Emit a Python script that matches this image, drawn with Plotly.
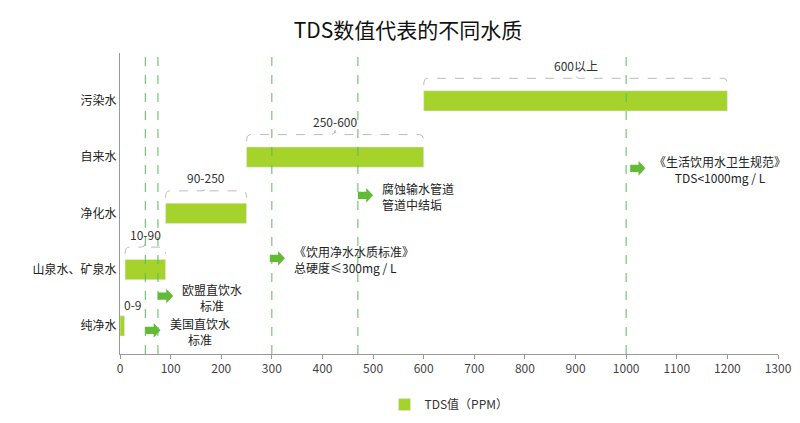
import plotly.graph_objects as go

categories = ["纯净水", "山泉水、矿泉水", "净化水", "自来水", "污染水"]
starts = [0, 10, 90, 250, 600]
ends = [9, 90, 250, 600, 1200]
range_labels = ["0-9", "10-90", "90-250", "250-600", "600以上"]
ref_lines = [50, 75, 300, 470, 1000]
note_x = [50, 75, 296, 470, 1008]
note_y = [-0.08, 0.53, 1.2, 2.32, 2.8]
note_text = ["美国直饮水<br>标准", "欧盟直饮水<br>标准", "《饮用净水水质标准》<br>总硬度≤300mg / L",
             "腐蚀输水管道<br>管道中结垢", "《生活饮用水卫生规范》<br>TDS<1000mg / L"]
note_align = ["center", "center", "left", "left", "center"]
green = "#a6d22c"
arrow_green = "#62bb35"

fig = go.Figure()
fig.add_trace(go.Bar(orientation="h", y=list(range(5)), base=starts,
                     x=[e - s for s, e in zip(starts, ends)], width=0.36,
                     marker_color=green, name="TDS值（PPM）", showlegend=True))

shapes = []
for xv in ref_lines:
    shapes.append(dict(type="line", x0=xv, x1=xv, y0=-0.5, y1=4.85, xref="x", yref="y",
                       line=dict(color="#5cb85c", width=1, dash="dash")))
annotations = []
for i, (s, e, lab) in enumerate(zip(starts, ends, range_labels)):
    yb = i + 0.28
    yl = i + 0.4
    mid = (s + e) / 2
    if e - s > 30:
        path = f"M {s},{yb} Q {s},{yl} {s+8},{yl} L {mid-8},{yl} Q {mid},{yl} {mid},{yl+0.08} Q {mid},{yl} {mid+8},{yl} L {e-8},{yl} Q {e},{yl} {e},{yb}"
        shapes.append(dict(type="path", path=path, xref="x", yref="y",
                           line=dict(color="#bbbbbb", width=1, dash="dash")))
        annotations.append(dict(x=mid, y=i + 0.63, text=lab, showarrow=False,
                                font=dict(size=12, color="#333"), xref="x", yref="y"))
    else:
        annotations.append(dict(x=25, y=i + 0.38, text=lab, showarrow=False,
                                font=dict(size=12, color="#333"), xref="x", yref="y"))

for xv, yv, t, al in zip(note_x, note_y, note_text, note_align):
    w, h = 30, 0.13
    p = (f"M {xv},{yv-h*0.5} L {xv+w*0.55},{yv-h*0.5} L {xv+w*0.55},{yv-h} L {xv+w},{yv} "
         f"L {xv+w*0.55},{yv+h} L {xv+w*0.55},{yv+h*0.5} L {xv},{yv+h*0.5} Z")
    shapes.append(dict(type="path", path=p, xref="x", yref="y", fillcolor=arrow_green,
                       line=dict(width=0)))
    annotations.append(dict(x=xv + w + 14, y=yv - 0.02, text=t, showarrow=False, xanchor="left",
                            align=al, font=dict(size=12, color="#222"), xref="x", yref="y"))

fig.update_layout(
    width=800, height=423, plot_bgcolor="white", paper_bgcolor="white",
    font=dict(family="Noto Sans CJK SC", size=12, color="#333"),
    title=dict(text="TDS数值代表的不同水质", x=0.5, xanchor="center", y=0.965,
               font=dict(size=21, color="#111")),
    margin=dict(l=112, r=30, t=45, b=58),
    xaxis=dict(range=[0, 1300], dtick=100, showgrid=False, zeroline=False, showline=True,
               linecolor="#999", ticks="outside", ticklen=4, tickcolor="#999", automargin=False,
               tickfont=dict(size=12, color="#444")),
    yaxis=dict(range=[-0.5, 4.85], tickvals=list(range(5)), ticktext=categories, automargin=False,
               showgrid=False, zeroline=False, showline=True, linecolor="#999",
               tickfont=dict(size=12, color="#222"), ticks=""),
    shapes=shapes, annotations=annotations,
    legend=dict(orientation="h", x=0.5, xanchor="center", y=-0.12, yanchor="top",
                font=dict(size=12)),
)
fig.write_html("out.html")
